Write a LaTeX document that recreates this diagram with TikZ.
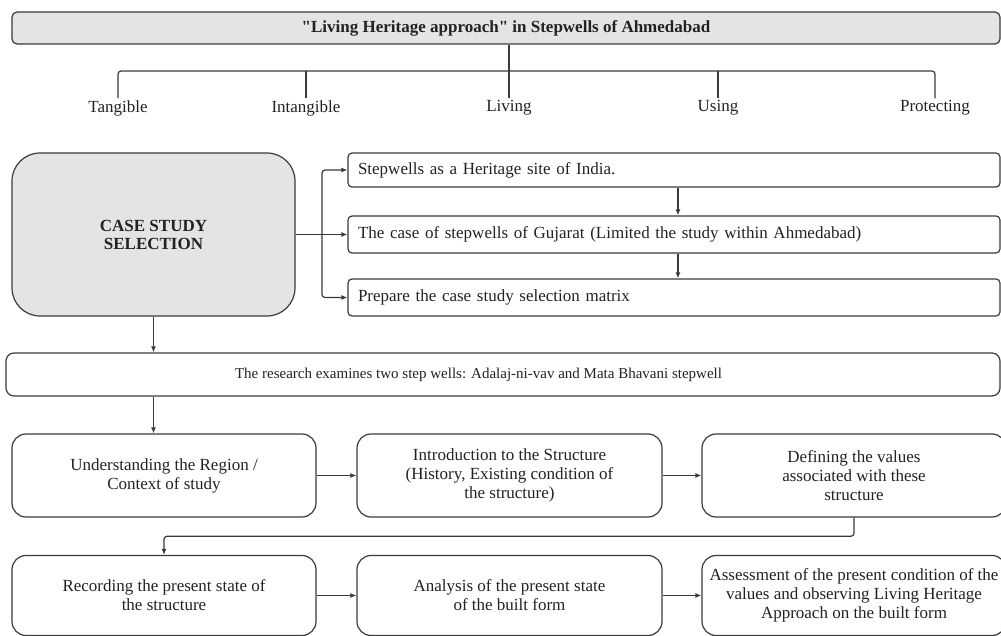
\documentclass[tikz,border=0pt]{standalone}
\usepackage{fontspec}
\setmainfont{Liberation Serif}[Ligatures=TeXOff]
\usetikzlibrary{arrows.meta,calc}
\definecolor{edge}{HTML}{3A3A3A}
\definecolor{ink}{HTML}{222222}
\definecolor{shade}{HTML}{E4E4E4}
\newcommand\bodyfont{\fontsize{17}{19}\selectfont}
\tikzset{
  wire/.style={draw=edge, line width=1.2pt},
  arrow/.style={wire, -{Latex[length=6pt,width=5pt]}},
  box/.style={draw=edge, line width=1.2pt, text=ink, inner sep=0pt, font=\bodyfont},
  rowbox/.style={box, rounded corners=14pt, minimum height=83pt,
    minimum width=304pt, align=center},
  sidebox/.style={box, rounded corners=4pt, text width=632pt, align=left,
    inner xsep=10pt, minimum width=652pt},
  leaf/.style={text=ink, font=\bodyfont, inner sep=2pt}
}
\begin{document}
\begin{tikzpicture}[x=1pt,y=-1pt]
\useasboundingbox (0,0) rectangle (1001,636);
\clip (0,0) rectangle (1001,636);

% heading bar
\node[box, fill=shade, rounded corners=5pt, minimum width=988pt,
  minimum height=32pt, font=\bodyfont\bfseries]
  (title) at (506,28) {"Living Heritage approach" in Stepwells of Ahmedabad};

% five aspects
\coordinate (bus) at (509,71);
\node[leaf] (tang) at (118,108) {Tangible};
\node[leaf] (intang) at (306,108) {Intangible};
\node[leaf] (living) at (509,108) {Living};
\node[leaf] (using) at (718,108) {Using};
\node[leaf] (prot) at (935,108) {Protecting};
\draw[wire, rounded corners=3pt] (tang.north) -- (tang.north |- bus)
  -- (prot.north |- bus) -- (prot.north);
\draw[wire] (title.south -| living) -- (living.north);
\draw[wire] (intang.north |- bus) -- (intang.north);
\draw[wire] (using.north |- bus) -- (using.north);

% case study selection
\node[box, fill=shade, rounded corners=28pt, minimum width=283pt,
  minimum height=163pt, align=center, font=\fontsize{17}{18}\selectfont\bfseries]
  (case) at (153.5,234.5) {CASE STUDY\\SELECTION};
\node[sidebox, minimum height=34pt] (s1) at (674,170)
  {Stepwells as a Heritage site of India.};
\node[sidebox, minimum height=37pt] (s2) at (674,234.5)
  {The case of stepwells of Gujarat (Limited the study within Ahmedabad)};
\node[sidebox, minimum height=37pt] (s3) at (674,297.5)
  {Prepare the case study selection matrix};
\coordinate (fork) at (322,234.5);
\draw[arrow] (case.east) -- (s2.west);
\draw[arrow, rounded corners=3pt] (fork) |- (s1.west);
\draw[arrow, rounded corners=3pt] (fork) |- (s3.west);
\draw[arrow] ([xshift=4pt]s1.south) -- ([xshift=4pt]s2.north);
\draw[arrow] ([xshift=4pt]s2.south) -- ([xshift=4pt]s3.north);

% research statement: frame and its text
\node[box, rounded corners=8pt, minimum width=994pt, minimum height=43pt]
  (research) at (503,374.5) {};
\node[text=ink, font=\fontsize{15}{17}\selectfont, inner sep=0pt]
  (researchtext) at (478.5,374.5)
  {The research examines two step wells: Adalaj-ni-vav and Mata Bhavani stepwell};
\draw[arrow] (case.south) -- (research.north -| case.south);

% first row of steps
\node[rowbox] (region) at (164,475.5) {Understanding the Region /\\Context of study};
\node[rowbox, minimum width=305pt] (intro) at (509.5,475.5)
  {Introduction to the Structure\\(History, Existing condition of\\the structure)};
\node[rowbox] (values) at (854,475.5)
  {Defining the values\\associated with these\\structure};
\draw[arrow] (research.south -| case.south) -- (region.north -| case.south);
\draw[arrow] (region.east) -- (intro.west);
\draw[arrow] (intro.east) -- (values.west);

% second row of steps
\node[rowbox, minimum height=80pt] (record) at (164,595.5)
  {Recording the present state of\\the structure};
\node[rowbox, minimum width=305pt, minimum height=80pt] (analysis) at (509.5,595.5)
  {Analysis of the present state\\of the built form};
\node[rowbox, minimum height=80pt] (assess) at (854,595.5)
  {Assessment of the present condition of the\\values and observing Living Heritage\\Approach on the built form};
\draw[arrow, rounded corners=3pt] (values.south) |- ($(values.south)!0.5!(record.north)$)
  -| (record.north);
\draw[arrow] (record.east) -- (analysis.west);
\draw[arrow] (analysis.east) -- (assess.west);
\end{tikzpicture}
\end{document}
